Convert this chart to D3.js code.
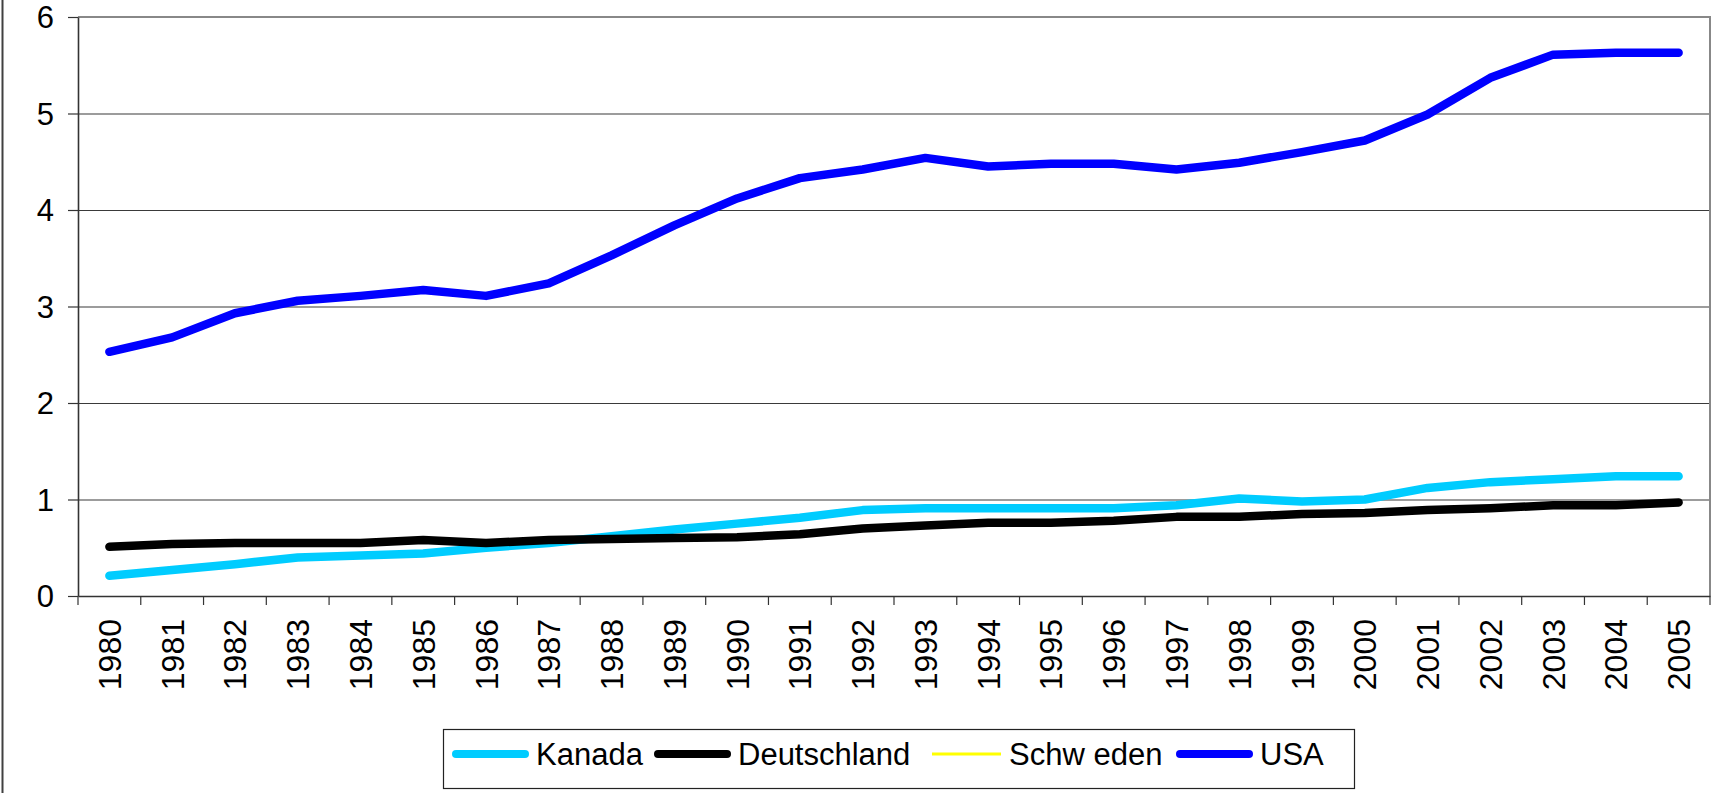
<!DOCTYPE html>
<html>
<head>
<meta charset="utf-8">
<script src="https://cdn.jsdelivr.net/npm/d3@7"></script>
<style>
  body { margin: 0; background: #fff; }
  svg { display: block; font-family: "Liberation Sans", Arial, sans-serif; }
</style>
</head>
<body>
<div id="chart"></div>
<script>
// Data
const years = ["1980","1981","1982","1983","1984","1985","1986","1987","1988","1989",
  "1990","1991","1992","1993","1994","1995","1996","1997","1998","1999",
  "2000","2001","2002","2003","2004","2005"];
const kanada = [0.21,0.27,0.33,0.40,0.42,0.44,0.50,0.55,0.62,0.69,
  0.75,0.81,0.89,0.91,0.91,0.91,0.91,0.94,1.01,0.98,
  1.00,1.12,1.18,1.21,1.24,1.24];
const deutschland = [0.51,0.54,0.55,0.55,0.55,0.58,0.55,0.58,0.59,0.60,
  0.61,0.64,0.70,0.73,0.76,0.76,0.78,0.82,0.82,0.85,
  0.86,0.89,0.91,0.94,0.94,0.97];
const schweden = []; // no values shown, legend entry only
const usa = [2.53,2.68,2.93,3.06,3.11,3.17,3.11,3.24,3.53,3.84,
  4.12,4.33,4.42,4.54,4.45,4.48,4.48,4.42,4.49,4.60,
  4.72,4.99,5.37,5.61,5.63,5.63];
const yTicks = [0,1,2,3,4,5,6];

const seriesNames = ["Kanada","Deutschland","Schw eden","USA"];
const seriesColors = ["#00ccff","#000000","#ffff00","#0000ff"];
const seriesValues = [kanada, deutschland, schweden, usa];

function BuildGraph(){
  let width = 1712;
  let height = 793;
  let left = 78, right = 1710, top = 17, bottom = 596;

  let svg = d3.select('#chart')
    .append('svg')
    .attr('width', width)
    .attr('height', height);

  // outer chart border (left side visible)
  svg.append('line')
    .attr('x1', 2.5).attr('x2', 2.5)
    .attr('y1', 0).attr('y2', height)
    .attr('stroke', '#404040')
    .attr('stroke-width', 2);

  let x_scale = d3.scaleBand()
    .domain(years)
    .range([left, right]);

  let y_scale = d3.scaleLinear()
    .domain([0, 6])
    .range([bottom, top]);

  // gridlines
  svg.append('g')
    .attr('transform', 'translate(' + left + ',0)')
    .call(d3.axisLeft(y_scale).tickValues(yTicks.slice(1, -1)).tickSize(-(right - left)).tickFormat(''))
    .call(g => g.select('.domain').remove())
    .selectAll('line')
    .attr('stroke', '#3a3a3a')
    .attr('stroke-width', 1.2);

  // plot border top/right
  svg.append('path')
    .attr('d', 'M' + left + ',' + top + 'H' + right + 'V' + bottom)
    .attr('fill', 'none')
    .attr('stroke', '#888')
    .attr('stroke-width', 2);

  // y axis
  let y_axis = d3.axisLeft(y_scale)
    .tickValues(yTicks)
    .tickFormat(d3.format('d'))
    .tickSize(10)
    .tickPadding(14)
    .tickSizeOuter(0);
  let yg = svg.append('g')
    .attr('transform', 'translate(' + left + ',0)')
    .call(y_axis);
  yg.select('.domain').attr('stroke', '#333').attr('stroke-width', 1.6);
  yg.selectAll('.tick line').attr('stroke', '#333').attr('stroke-width', 1.2);
  yg.selectAll('text')
    .style('font-size', '31px')
    .attr('fill', '#000')
    .attr('dy', '0.34em')
    .attr('font-family', '"Liberation Sans", Arial, sans-serif');

  // x axis: labels at category centres, ticks between categories
  let x_axis = d3.axisBottom(x_scale).tickSize(0).tickSizeOuter(0);
  let xg = svg.append('g')
    .attr('transform', 'translate(0,' + bottom + ')')
    .call(x_axis);
  xg.select('.domain').attr('stroke', '#333').attr('stroke-width', 1.6);
  xg.selectAll('text')
    .style('font-size', '32px')
    .attr('fill', '#000')
    .attr('font-family', '"Liberation Sans", Arial, sans-serif')
    .attr('text-anchor', 'end')
    .attr('transform', 'translate(0,23) rotate(-90)')
    .attr('x', 0)
    .attr('y', 0)
    .attr('dy', '0.36em');

  svg.append('g')
    .selectAll('line')
    .data(years.concat(['end']))
    .enter()
    .append('line')
    .attr('x1', (d) => d === 'end' ? right : x_scale(d))
    .attr('x2', (d) => d === 'end' ? right : x_scale(d))
    .attr('y1', bottom)
    .attr('y2', bottom + 9)
    .attr('stroke', '#333')
    .attr('stroke-width', 1.2);

  // lines
  let line = d3.line()
    .defined((d) => d != null)
    .x((d, i) => x_scale(years[i]) + x_scale.bandwidth() / 2)
    .y((d) => y_scale(d));

  seriesValues.forEach((vals, k) => {
    if (!vals.length) return;
    svg.append('path')
      .datum(vals)
      .attr('d', line)
      .attr('fill', 'none')
      .attr('stroke', seriesColors[k])
      .attr('stroke-width', 8.5)
      .attr('stroke-linejoin', 'round')
      .attr('stroke-linecap', 'round');
  });

  // legend
  let legend = svg.append('g').attr('id', 'legend');
  legend.append('rect')
    .attr('x', 443.5).attr('y', 729.5)
    .attr('width', 911).attr('height', 59)
    .attr('fill', '#fff')
    .attr('stroke', '#222')
    .attr('stroke-width', 1.2);

  let itemX = [452, 654, 928, 1176];
  seriesNames.forEach((name, k) => {
    legend.append('line')
      .attr('x1', itemX[k] + 4).attr('x2', itemX[k] + 73)
      .attr('y1', 754).attr('y2', 754)
      .attr('stroke', seriesColors[k])
      .attr('stroke-width', k === 2 ? 3 : 8)
      .attr('stroke-linecap', k === 2 ? 'butt' : 'round');
    legend.append('text')
      .attr('x', itemX[k] + (k === 2 ? 81 : 84))
      .attr('y', 765)
      .style('font-size', '31px')
      .attr('fill', '#000')
      .text(name);
  });
}

document.addEventListener('DOMContentLoaded', function(){
  BuildGraph();
});
</script>
</body>
</html>
